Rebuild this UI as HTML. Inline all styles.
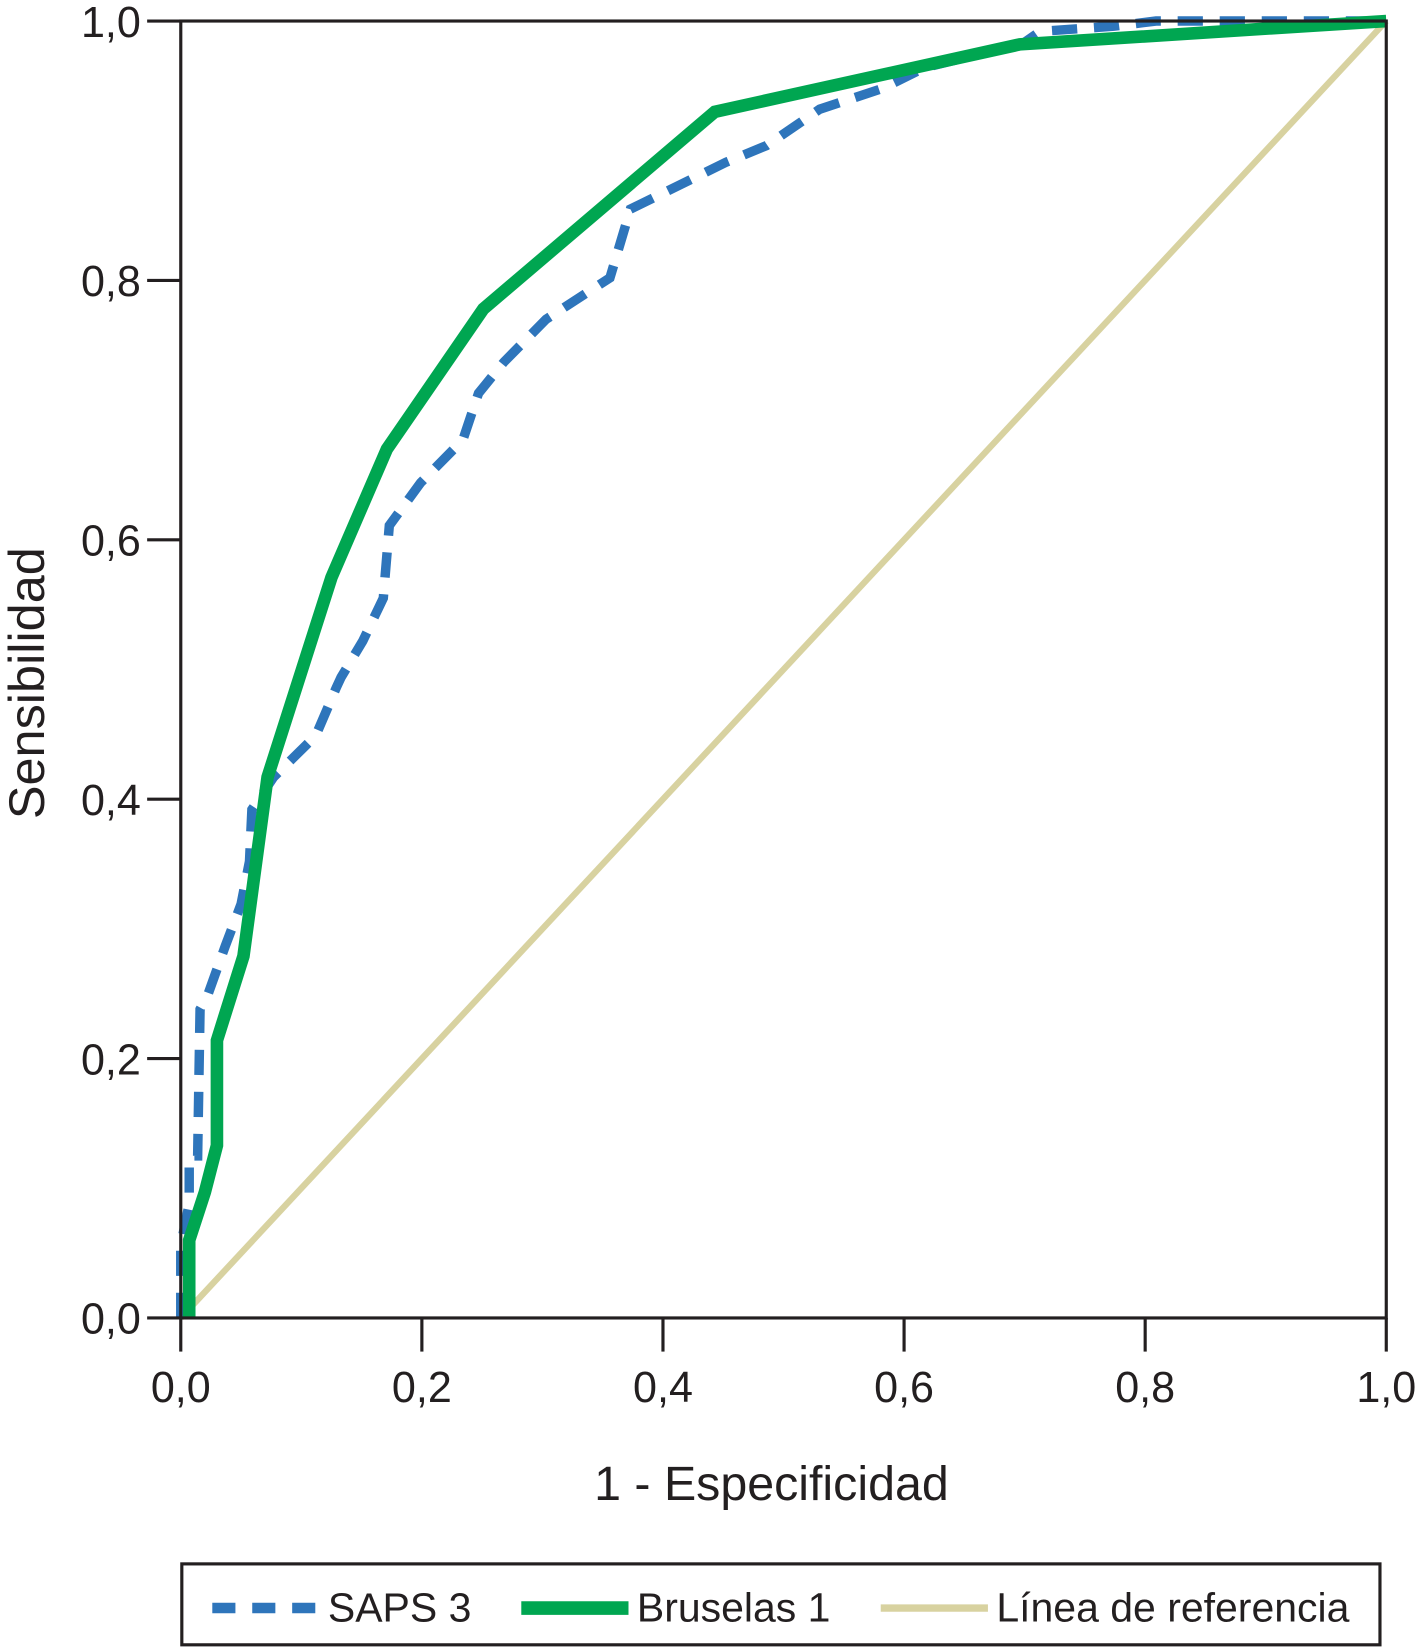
<!DOCTYPE html>
<html><head><meta charset="utf-8"><style>
html,body{margin:0;padding:0;background:#fff;}
svg text{font-family:"Liberation Sans",sans-serif;fill:#231f20;}
</style></head><body>
<svg id="chart" width="1420" height="1647" viewBox="0 0 1420 1647" xmlns="http://www.w3.org/2000/svg">
<g transform="scale(1.051)">
<g id="series"></g>
<rect x="172" y="20" width="1147" height="1234" fill="none" stroke="#231f20" stroke-width="3"/>
<g id="axes"></g>
<text x="734" y="1427" font-size="46" text-anchor="middle">1 - Especificidad</text>
<text transform="translate(42,650) rotate(-90)" font-size="48" text-anchor="middle">Sensibilidad</text>
<g>
<rect x="173" y="1488" width="1140" height="77" fill="none" stroke="#231f20" stroke-width="3"/>
<g>
<line x1="202" y1="1530" x2="304" y2="1530" stroke="#2e75bb" stroke-width="10" stroke-dasharray="22,16"/>
<text x="312" y="1543" font-size="39">SAPS 3</text></g>
<g>
<line x1="496" y1="1530" x2="598" y2="1530" stroke="#00a651" stroke-width="13"/>
<text x="606" y="1543" font-size="39">Bruselas 1</text></g>
<g>
<line x1="838" y1="1530" x2="940" y2="1530" stroke="#d8d2a0" stroke-width="7"/>
<text x="948" y="1543" font-size="39">Línea de referencia</text></g>
</g>
</g>
</svg>
<script>
const ticks = [0, 0.2, 0.4, 0.6, 0.8, 1.0];
const tickLabels = ["0,0", "0,2", "0,4", "0,6", "0,8", "1,0"];
const brusX = [0.007,0.007,0.02,0.03,0.03,0.052,0.072,0.125,0.171,0.251,0.443,0.696,1.0];
const brusY = [0,0.06,0.097,0.133,0.214,0.279,0.417,0.571,0.670,0.778,0.930,0.982,1.0];
const sapsX = [0,0,0.007,0.007,0.014,0.016,0.022,0.037,0.05,0.057,0.059,0.077,0.112,0.129,0.133,0.151,0.168,0.173,0.199,0.234,0.247,0.268,0.303,0.356,0.373,0.417,0.452,0.486,0.53,0.582,0.617,0.652,0.696,0.713,0.774,0.809,1.0];
const sapsY = [0,0.056,0.088,0.125,0.125,0.238,0.248,0.287,0.319,0.352,0.392,0.417,0.449,0.486,0.494,0.522,0.555,0.611,0.644,0.677,0.713,0.737,0.770,0.802,0.855,0.875,0.891,0.904,0.932,0.948,0.964,0.972,0.981,0.992,0.996,1,1];
const refX = [0, 1];
const refY = [0, 1];
const NS = "http://www.w3.org/2000/svg";
const sx = v => 172 + v * 1147;
const sy = v => 1254 - v * 1234;
const axes = document.getElementById('axes');
const series = document.getElementById('series');
function mk(tag, attrs, parent){const e=document.createElementNS(NS,tag);for(const k in attrs)e.setAttribute(k,attrs[k]);parent.appendChild(e);return e;}
ticks.forEach((t,i)=>{
  const xt = mk('line',{x1:sx(t),x2:sx(t),y1:1254,y2:1286,stroke:'#231f20','stroke-width':3},axes);
  
  
  const xl = mk('text',{x:sx(t),y:1334,'font-size':41,'text-anchor':'middle'},axes);
  xl.textContent = tickLabels[i];
  
  
  const yt = mk('line',{x1:140,x2:172,y1:sy(t),y2:sy(t),stroke:'#231f20','stroke-width':3},axes);
  
  
  const yl = mk('text',{x:134,y:sy(t)+15,'font-size':41,'text-anchor':'end'},axes);
  yl.textContent = tickLabels[i];
  
  
});
function pts(xs,ys){return xs.map((x,i)=>sx(x)+','+sy(ys[i])).join(' ');}
const ref = mk('polyline',{points:pts(refX,refY),fill:'none',stroke:'#d8d2a0','stroke-width':6},series);


const saps = mk('polyline',{points:pts(sapsX,sapsY),fill:'none',stroke:'#2e75bb','stroke-width':9,'stroke-dasharray':'24,16','stroke-linejoin':'miter'},series);


const brus = mk('polyline',{points:pts(brusX,brusY),fill:'none',stroke:'#00a651','stroke-width':12,'stroke-linejoin':'miter'},series);


</script>
</body></html>
